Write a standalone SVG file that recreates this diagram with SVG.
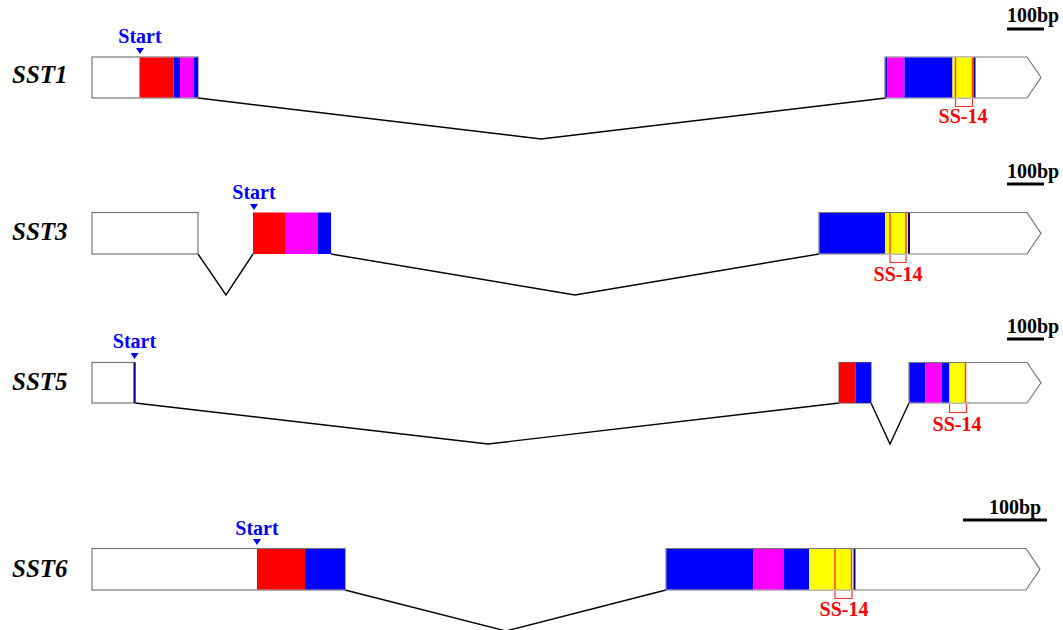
<svg xmlns="http://www.w3.org/2000/svg" width="1063" height="630" viewBox="0 0 1063 630">
<style>
.lbl{font-family:"Liberation Serif",serif;font-weight:bold;font-style:italic;font-size:25px;fill:#000}
.st{font-family:"Liberation Serif",serif;font-weight:bold;font-size:20px;fill:#0000FF;text-anchor:middle}
.ss{font-family:"Liberation Serif",serif;font-weight:bold;font-size:20px;fill:#FF0000;text-anchor:middle}
.bp{font-family:"Liberation Serif",serif;font-weight:bold;font-size:20px;fill:#000}
.box{fill:#fff;stroke:#777;stroke-width:1.2}
.intr{fill:none;stroke:#000;stroke-width:1.4}
.r{fill:#FF0000}.b{fill:#0000FF}.m{fill:#FF00FF}.y{fill:#FFFF00}
.ol{stroke:#FF4000;stroke-width:1.5}
.db{stroke:#000080;stroke-width:2}
.br{fill:none;stroke:#FF3030;stroke-width:1.2}
.tri{fill:#0000FF}
.bar{stroke:#000;stroke-width:3}
</style>
<g id="connectors">
<polyline class="intr" points="198,98 541,139 886,98"/>
<polyline class="intr" points="198,254 226,295 253,254"/>
<polyline class="intr" points="331,254 575,295 819,254"/>
<polyline class="intr" points="135,403 488,444 839,403"/>
<polyline class="intr" points="871,403 890,444 909,403"/>
<polyline class="intr" points="345,590 506,631 666,590"/>
</g>
<g id="SST1">
<text class="lbl" x="12" y="83">SST1</text>
<text class="st" x="140" y="43">Start</text>
<polygon class="tri" points="136,48 144,48 140,54"/>
<rect class="box" x="92" y="57" width="106" height="41"/>
<rect class="r" x="139.5" y="57.5" width="34" height="40"/>
<rect class="b" x="173.5" y="57.5" width="6.5" height="40"/>
<rect class="m" x="180" y="57.5" width="14" height="40"/>
<rect class="b" x="194" y="57.5" width="4" height="40"/>
<path class="box" d="M885,57 H1027 L1041,77.5 L1027,98 H885 Z"/>
<rect class="b" x="885.5" y="57.5" width="2" height="40"/>
<rect class="m" x="887.5" y="57.5" width="17" height="40"/>
<rect class="b" x="904.5" y="57.5" width="48" height="40"/>
<rect class="y" x="952.5" y="57.5" width="21.5" height="40"/>
<line class="ol" x1="955.5" y1="57.5" x2="955.5" y2="97.5"/>
<line class="ol" x1="972.5" y1="57.5" x2="972.5" y2="97.5"/>
<line class="db" x1="974.5" y1="57.5" x2="974.5" y2="97.5"/>
<polyline class="br" points="955.5,99 955.5,106.5 972.5,106.5 972.5,99"/>
<text class="ss" x="963" y="123">SS-14</text>
</g>
<g id="SST3">
<text class="lbl" x="12" y="240">SST3</text>
<text class="st" x="254" y="199">Start</text>
<polygon class="tri" points="250,204 258,204 254,210"/>
<rect class="box" x="92" y="212.5" width="106" height="41.5"/>
<rect class="r" x="253" y="212.5" width="32" height="41.5"/>
<rect class="m" x="285" y="212.5" width="33" height="41.5"/>
<rect class="b" x="318" y="212.5" width="13" height="41.5"/>
<path class="box" d="M819,212.5 H1027 L1041,233.3 L1027,254 H819 Z"/>
<rect class="b" x="819.5" y="213" width="65.5" height="40.5"/>
<rect class="y" x="885" y="213" width="23.5" height="40.5"/>
<line class="ol" x1="890" y1="213" x2="890" y2="253.5"/>
<line class="ol" x1="906" y1="213" x2="906" y2="253.5"/>
<line class="db" x1="909" y1="213" x2="909" y2="253.5"/>
<polyline class="br" points="890,255 890,262.5 906,262.5 906,255"/>
<text class="ss" x="898" y="281">SS-14</text>
</g>
<g id="SST5">
<text class="lbl" x="12" y="390">SST5</text>
<text class="st" x="134.5" y="348">Start</text>
<polygon class="tri" points="130.5,353 138.5,353 134.5,359"/>
<rect class="box" x="92" y="362.5" width="43" height="40.5"/>
<line class="db" x1="134.5" y1="362.5" x2="134.5" y2="403"/>
<rect class="box" x="839" y="362.5" width="32" height="40.5"/>
<rect class="r" x="839" y="362.5" width="16.5" height="40.5"/>
<rect class="b" x="855.5" y="362.5" width="15.5" height="40.5"/>
<path class="box" d="M909,362.5 H1027 L1041,382.8 L1027,403 H909 Z"/>
<rect class="b" x="909.5" y="363" width="16" height="39.5"/>
<rect class="m" x="925.5" y="363" width="16.5" height="39.5"/>
<rect class="b" x="942" y="363" width="7.5" height="39.5"/>
<rect class="y" x="949.5" y="363" width="16" height="39.5"/>
<line class="ol" x1="965.5" y1="363" x2="965.5" y2="402.5"/>
<polyline class="br" points="949.5,404 949.5,412.5 966.5,412.5 966.5,404"/>
<text class="ss" x="957" y="431">SS-14</text>
</g>
<g id="SST6">
<text class="lbl" x="12" y="577">SST6</text>
<text class="st" x="257" y="535">Start</text>
<polygon class="tri" points="253,539 261,539 257,545"/>
<rect class="box" x="92" y="548.5" width="253" height="41.5"/>
<rect class="r" x="257" y="549" width="48" height="40.5"/>
<rect class="b" x="305" y="549" width="40" height="40.5"/>
<path class="box" d="M666,548.5 H1026 L1040,569.3 L1026,590 H666 Z"/>
<rect class="b" x="666.5" y="549" width="87" height="40.5"/>
<rect class="m" x="753.5" y="549" width="30" height="40.5"/>
<rect class="b" x="783.5" y="549" width="25.5" height="40.5"/>
<rect class="y" x="809" y="549" width="42.5" height="40.5"/>
<line class="ol" x1="835" y1="549" x2="835" y2="589.5"/>
<line class="ol" x1="851.5" y1="549" x2="851.5" y2="589.5"/>
<line class="db" x1="854.5" y1="549" x2="854.5" y2="589.5"/>
<polyline class="br" points="835,591 835,598.5 852,598.5 852,591"/>
<text class="ss" x="844" y="616">SS-14</text>
</g>
<g id="scalebars">
<text class="bp" x="1007" y="22">100bp</text>
<line class="bar" x1="1007" y1="29" x2="1044" y2="29"/>
<text class="bp" x="1007" y="178">100bp</text>
<line class="bar" x1="1007" y1="184" x2="1044" y2="184"/>
<text class="bp" x="1007" y="333">100bp</text>
<line class="bar" x1="1007" y1="339" x2="1044" y2="339"/>
<text class="bp" x="989" y="514">100bp</text>
<line class="bar" x1="963" y1="520" x2="1047" y2="520"/>
</g>
</svg>
